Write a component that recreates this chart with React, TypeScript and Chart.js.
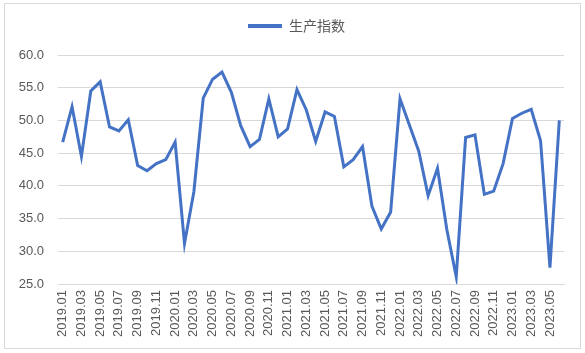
import React, { useEffect, useRef } from "react";
import { Chart, registerables } from "chart.js";

Chart.register(...registerables);

const categories: string[] = [
  "2019.01", "2019.02", "2019.03", "2019.04", "2019.05", "2019.06", "2019.07", "2019.08", "2019.09", "2019.10", "2019.11", "2019.12",
  "2020.01", "2020.02", "2020.03", "2020.04", "2020.05", "2020.06", "2020.07", "2020.08", "2020.09", "2020.10", "2020.11", "2020.12",
  "2021.01", "2021.02", "2021.03", "2021.04", "2021.05", "2021.06", "2021.07", "2021.08", "2021.09", "2021.10", "2021.11", "2021.12",
  "2022.01", "2022.02", "2022.03", "2022.04", "2022.05", "2022.06", "2022.07", "2022.08", "2022.09", "2022.10", "2022.11", "2022.12",
  "2023.01", "2023.02", "2023.03", "2023.04", "2023.05", "2023.06",
];

const productionIndex: number[] = [
  46.7, 52.1, 44.5, 54.5, 55.9, 49.0, 48.4, 50.1, 43.1, 42.3, 43.4, 44.0,
  46.7, 31.2, 39.1, 53.4, 56.3, 57.4, 54.3, 49.2, 46.0, 47.1, 53.3, 47.5,
  48.7, 54.7, 51.6, 46.8, 51.3, 50.6, 42.9, 44.0, 46.0, 36.9, 33.4, 36.0,
  53.3, 49.3, 45.3, 38.5, 42.7, 33.3, 26.1, 47.4, 47.8, 38.7, 39.2, 43.4,
  50.3, 51.1, 51.7, 46.9, 27.5, 50.0,
];

const seriesName = "生产指数";
const yMin = 25;
const yMax = 60;
const yStep = 5;

export default function App() {
  const ref = useRef<HTMLCanvasElement | null>(null);

  useEffect(() => {
    if (!ref.current) return;
    const lineColor = "#4472C4";
    const textColor = "#595959";
    const gridColor = "#d9d9d9";
    const fontFamily = "'Liberation Sans', 'Noto Sans CJK SC', sans-serif";

    const chart = new Chart(ref.current, {
      type: "line",
      data: {
        labels: categories,
        datasets: [
          {
            label: seriesName,
            data: productionIndex,
            borderColor: lineColor,
            backgroundColor: lineColor,
            borderWidth: 3,
            pointRadius: 0,
            tension: 0,
            fill: false,
          },
        ],
      },
      options: {
        responsive: false,
        animation: false,
        layout: { padding: { left: 8, right: 0, top: 8, bottom: 0 } },
        plugins: {
          tooltip: { enabled: false },
          legend: {
            display: true,
            position: "top",
            labels: {
              boxWidth: 34,
              boxHeight: 4,
              padding: 11,
              color: textColor,
              font: { size: 14, family: "'Noto Sans CJK SC', sans-serif" },
              generateLabels: () => [
                {
                  text: seriesName,
                  fillStyle: lineColor,
                  strokeStyle: lineColor,
                  lineWidth: 0,
                  hidden: false,
                  datasetIndex: 0,
                  fontColor: textColor,
                } as any,
              ],
            },
          },
        },
        scales: {
          x: {
            type: "category",
            offset: true,
            grid: { display: false, drawTicks: false },
            border: { display: true, color: gridColor, width: 1 },
            ticks: {
              autoSkip: false,
              minRotation: 90,
              maxRotation: 90,
              padding: 6,
              color: textColor,
              font: { size: 13, family: fontFamily },
              callback: (_v: any, i: number) => (i % 2 === 0 ? categories[i] : ""),
            },
            afterFit: (s: any) => {
              s.height = 69;
            },
          },
          xTop: {
            type: "category",
            position: "top",
            display: true,
            grid: { display: false, drawTicks: false },
            border: { display: false },
            ticks: { display: false },
            afterFit: (s: any) => {
              s.height = 12;
            },
          },
          y: {
            min: yMin,
            max: yMax,
            grid: { color: gridColor, lineWidth: 1, drawTicks: false },
            border: { display: false },
            ticks: {
              stepSize: yStep,
              padding: 14,
              color: textColor,
              font: { size: 13, family: fontFamily },
              callback: (v: any) => Number(v).toFixed(1),
            },
            afterFit: (s: any) => {
              s.width = 50;
            },
          },
          yRight: {
            position: "right",
            display: true,
            grid: { display: false, drawTicks: false },
            border: { display: false },
            ticks: { display: false },
            afterFit: (s: any) => {
              s.width = 21;
            },
          },
        },
      } as any,
    });
    return () => chart.destroy();
  }, []);

  return (
    <div style={{ position: "absolute", left: 0, top: 0, width: 585, height: 353, background: "#fff" }}>
      <canvas ref={ref} width={585} height={353} style={{ display: "block" }} />
      <div
        style={{
          position: "absolute",
          left: 4,
          top: 3,
          width: 577,
          height: 346,
          border: "1px solid #d9d9d9",
          boxSizing: "border-box",
          pointerEvents: "none",
        }}
      />
    </div>
  );
}
